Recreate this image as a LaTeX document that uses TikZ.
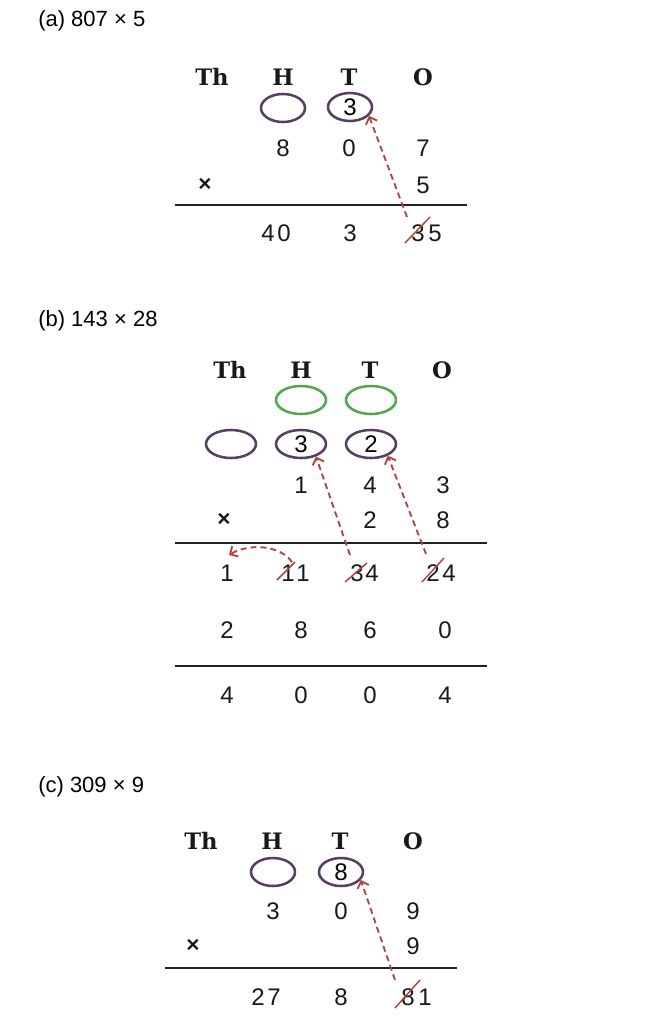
\documentclass[tikz,border=0pt]{standalone}
\usepackage{fontspec}
\setmainfont{Liberation Sans}
\newfontfamily\hdrfont{DejaVu Serif}
\usetikzlibrary{shapes.geometric,arrows.meta,calc}
\definecolor{ovalc}{HTML}{57405F}
\definecolor{greenc}{HTML}{4FA84A}
\definecolor{redc}{HTML}{B0453F}
\definecolor{rulec}{HTML}{222222}
\tikzset{
  dig/.style={font=\fontsize{18}{20}\selectfont, inner sep=0pt, text=black!90},
  crs/.style={dig, font=\bfseries\fontsize{17}{20}\selectfont},
  hdr/.style={font=\hdrfont\bfseries\fontsize{17}{20}\selectfont, inner sep=0pt, text=black!90},
  ttl/.style={font=\fontsize{16.5}{20}\selectfont, anchor=west, inner sep=0pt},
  oval/.style={ellipse, draw=ovalc, line width=1.9pt, minimum width=33pt, minimum height=21pt, inner sep=0pt, font=\fontsize{18}{20}\selectfont},
  wideoval/.style={oval, minimum width=37.5pt},
  goval/.style={wideoval, draw=greenc},
  rulel/.style={draw=rulec, line width=1.8pt},
  carry/.style={draw=redc, line width=1.4pt, dash pattern=on 4.5pt off 3pt, -{Straight Barb[length=4.5pt,width=9pt]}},
  strike/.style={draw=redc, line width=1.1pt},
}
\begin{document}
\begin{tikzpicture}[x=0.75pt,y=-0.75pt]
\useasboundingbox (0,0) rectangle (654,1024);

% ---------------- (a) ----------------
\node[ttl] (ta) at (38,21) {(a) 807 × 5};
\node[hdr] (aTh) at (212,77) {Th};
\node[hdr] (aHh) at (283,77) {H};
\node[hdr] (aTt) at (349,77) {T};
\node[hdr] (aO) at (423,77) {O};
\node[oval] (aH) at (283,108) {};
\node[oval] (aT) at (350,107) {3};
\node[dig] (a1h) at (283,148) {8};
\node[dig] (a1t) at (349,148) {0};
\node[dig] (a1o) at (423,148) {7};
\node[crs] (ax) at (205,185) {×};
\node[dig] (a2o) at (423,185) {5};
\coordinate (aL1) at (175,205); \coordinate (aL2) at (467,205);
\draw[rulel] (aL1) -- (aL2);
\node[dig] (arh) at (276,233) {4\kern2pt0};
\node[dig] (art) at (350,233) {3};
\node[dig] (aro1) at (418,233) {3};
\node[dig] (aro2) at (435,233) {5};
\coordinate (aS) at ($(aro1)+(-11,-16)$);
\draw[strike] ($(aro1)+(-13,10)$) -- ($(aro1)+(12,-16)$);
\draw[carry] (aS) -- (aT.-25);

% ---------------- (b) ----------------
\node[ttl] (tb) at (38,321) {(b) 143 × 28};
\node[hdr] (bTh) at (230,370) {Th};
\node[hdr] (bHh) at (301,370) {H};
\node[hdr] (bTt) at (370,370) {T};
\node[hdr] (bO) at (442,370) {O};
\node[goval] (bgH) at (301,400) {};
\node[goval] (bgT) at (371,400) {};
\node[wideoval] (bTh2) at (231,444) {};
\node[wideoval] (bH) at (301,444) {3};
\node[wideoval] (bT) at (371,444) {2};
\node[dig] (b1h) at (301,485) {1};
\node[dig] (b1t) at (370,485) {4};
\node[dig] (b1o) at (443,485) {3};
\node[crs] (bx) at (224,520) {×};
\node[dig] (b2t) at (370,520) {2};
\node[dig] (b2o) at (443,520) {8};
\coordinate (bL1) at (175,543); \coordinate (bL2) at (487,543);
\draw[rulel] (bL1) -- (bL2);
\node[dig] (br1th) at (227,573) {1};
\node[dig] (br1h1) at (288,573) {1};
\node[dig] (br1h2) at (303,573) {1};
\node[dig] (br1t1) at (357,573) {3};
\node[dig] (br1t2) at (372,573) {4};
\node[dig] (br1o1) at (433,573) {2};
\node[dig] (br1o2) at (449,573) {4};
\node[dig] (br2th) at (227,630) {2};
\node[dig] (br2h) at (301,630) {8};
\node[dig] (br2t) at (370,630) {6};
\node[dig] (br2o) at (445,630) {0};
\coordinate (bM1) at (175,666); \coordinate (bM2) at (487,666);
\draw[rulel] (bM1) -- (bM2);
\node[dig] (bsth) at (227,695) {4};
\node[dig] (bsh) at (301,695) {0};
\node[dig] (bst) at (370,695) {0};
\node[dig] (bso) at (445,695) {4};
\draw[strike] ($(br1h1)+(-11,7)$) -- ($(br1h1)+(7,-11)$);
\draw[strike] ($(br1t1)+(-12,9)$) -- ($(br1t1)+(10,-10)$);
\draw[strike] ($(br1o1)+(-11,9)$) -- ($(br1o1)+(11,-15)$);
\coordinate (bS1) at ($(br1t1)+(-7,-18)$);
\coordinate (bS2) at ($(br1o1)+(-7,-19)$);
\coordinate (bS3) at ($(br1h1)+(4,-11)$);
\coordinate (bE3) at ($(br1th)+(2,-18)$);
\draw[carry] (bS1) -- (bH.-40);
\draw[carry] (bS2) -- (bT.-35);
\draw[carry] (bS3) .. controls ($(bS3)+(-12,-17)$) and ($(bE3)+(20,-12)$) .. (bE3);

% ---------------- (c) ----------------
\node[ttl] (tc) at (38,787) {(c) 309 × 9};
\node[hdr] (cTh) at (201,841) {Th};
\node[hdr] (cHh) at (272,841) {H};
\node[hdr] (cTt) at (340,841) {T};
\node[hdr] (cO) at (413,841) {O};
\node[oval] (cH) at (273,872) {};
\node[oval] (cT) at (341,872) {8};
\node[dig] (c1h) at (273,911) {3};
\node[dig] (c1t) at (341,911) {0};
\node[dig] (c1o) at (413,911) {9};
\node[crs] (cx) at (193,946) {×};
\node[dig] (c2o) at (413,946) {9};
\coordinate (cL1) at (165,968); \coordinate (cL2) at (457,968);
\draw[rulel] (cL1) -- (cL2);
\node[dig] (crh) at (266,997) {2\kern2pt7};
\node[dig] (crt) at (341,997) {8};
\node[dig] (cro1) at (408,997) {8};
\node[dig] (cro2) at (425,997) {1};
\draw[strike] ($(cro1)+(-13,11)$) -- ($(cro1)+(12,-17)$);
\coordinate (cS) at ($(cro1)+(-13,-17)$);
\draw[carry] (cS) -- (cT.-22);
\end{tikzpicture}
\end{document}
